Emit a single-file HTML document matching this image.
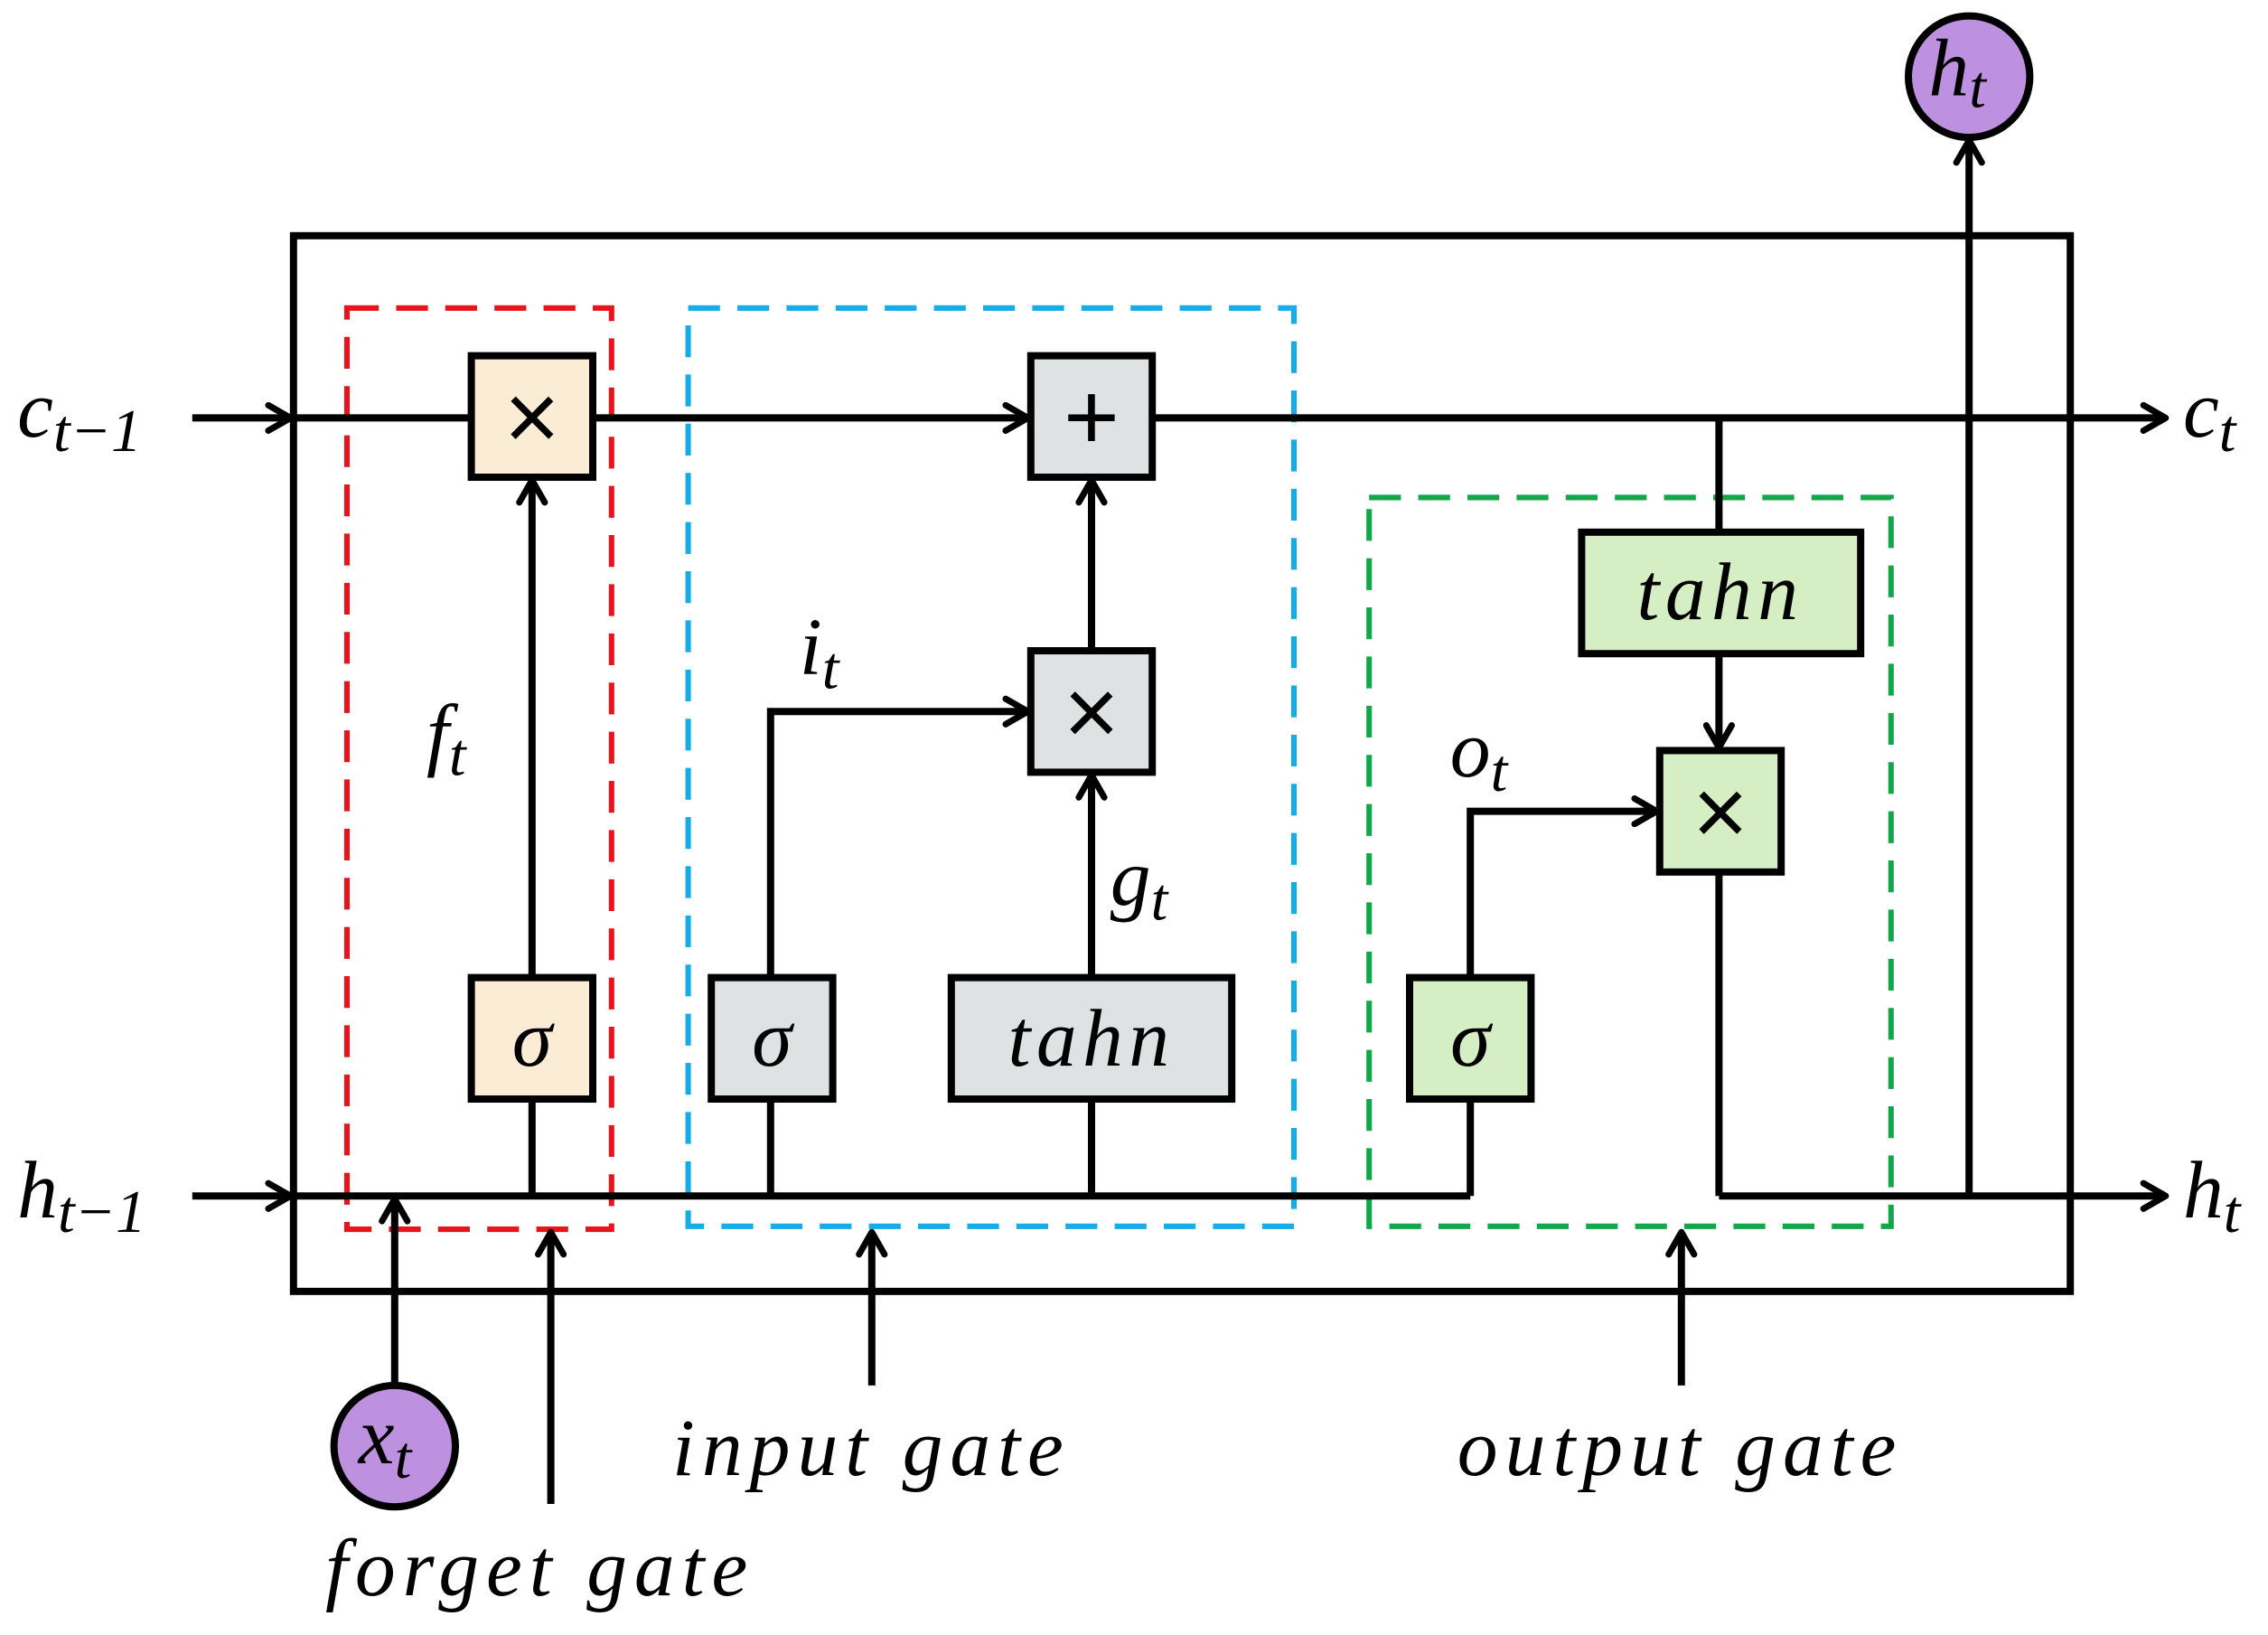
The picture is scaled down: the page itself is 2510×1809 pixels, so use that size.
<!DOCTYPE html>
<html><head><meta charset="utf-8"><style>html,body{margin:0;padding:0;background:#fff}svg{display:block}</style></head>
<body>
<svg width="2510" height="1809" viewBox="0 0 1568.75 1130.6" preserveAspectRatio="none" xmlns="http://www.w3.org/2000/svg">
<defs>
<marker id="a" viewBox="0 0 20 20" refX="18" refY="10" markerWidth="22" markerHeight="22" markerUnits="userSpaceOnUse" orient="auto">
<path d="M4,2 L18,10 L4,18" fill="none" stroke="#000" stroke-width="4" stroke-linecap="round" stroke-linejoin="round"/>
</marker>
</defs>
<g fill="none" stroke-width="3.8" stroke-dasharray="22,12">
<rect x="240" y="213" width="183" height="637" stroke="#e8141b"/>
<rect x="476" y="213" width="419" height="635" stroke="#16ace8"/>
<rect x="947" y="344" width="361" height="504" stroke="#12a84a"/>
</g>
<rect x="203" y="163" width="1229" height="730" fill="none" stroke="#000" stroke-width="5"/>
<g stroke="#000" stroke-width="5" fill="none">
<line x1="133" y1="289" x2="201" y2="289" marker-end="url(#a)"/>
<line x1="133" y1="827" x2="201" y2="827" marker-end="url(#a)"/>
<line x1="203" y1="289" x2="326" y2="289"/>
<line x1="410" y1="289" x2="711" y2="289" marker-end="url(#a)"/>
<line x1="797" y1="289" x2="1498" y2="289" marker-end="url(#a)"/>
<line x1="203" y1="827" x2="1017" y2="827"/>
<line x1="1189" y1="827" x2="1498" y2="827" marker-end="url(#a)"/>
<line x1="368" y1="827" x2="368" y2="760"/>
<line x1="368" y1="676" x2="368" y2="332" marker-end="url(#a)"/>
<line x1="533" y1="827" x2="533" y2="760"/>
<polyline points="533,676 533,492 711,492" marker-end="url(#a)"/>
<line x1="755" y1="827" x2="755" y2="760"/>
<line x1="755" y1="676" x2="755" y2="536" marker-end="url(#a)"/>
<line x1="755" y1="450" x2="755" y2="332" marker-end="url(#a)"/>
<line x1="1189" y1="289" x2="1189" y2="368"/>
<line x1="1189" y1="452" x2="1189" y2="517" marker-end="url(#a)"/>
<line x1="1017" y1="827" x2="1017" y2="760"/>
<polyline points="1017,676 1017,561 1146,561" marker-end="url(#a)"/>
<polyline points="1189,603 1189,827"/>
<line x1="1362" y1="827" x2="1362" y2="97" marker-end="url(#a)"/>
<line x1="273" y1="958" x2="273" y2="829" marker-end="url(#a)"/>
<line x1="381" y1="1040" x2="381" y2="852" marker-end="url(#a)"/>
<line x1="603" y1="958" x2="603" y2="852" marker-end="url(#a)"/>
<line x1="1163" y1="958" x2="1163" y2="852" marker-end="url(#a)"/>
</g>
<g stroke="#000" stroke-width="5">
<rect x="326" y="246" width="84" height="84" fill="#fbecd6"/>
<rect x="326" y="676" width="84" height="84" fill="#fbecd6"/>
<rect x="492" y="676" width="84" height="84" fill="#dfe2e3"/>
<rect x="658" y="676" width="194" height="84" fill="#dfe2e3"/>
<rect x="713" y="450" width="84" height="84" fill="#dfe2e3"/>
<rect x="713" y="246" width="84" height="84" fill="#dfe2e3"/>
<rect x="1094" y="368" width="193" height="84" fill="#d6eec4"/>
<rect x="1148" y="519" width="84" height="84" fill="#d6eec4"/>
<rect x="975" y="676" width="84" height="84" fill="#d6eec4"/>
<circle cx="1362" cy="53" r="42" fill="#bd91e0"/>
<circle cx="273" cy="1000" r="42" fill="#bd91e0"/>
</g>
<g font-family="Liberation Sans, sans-serif" font-size="66" text-anchor="middle" fill="#000">
<text x="368" y="311">×</text>
<text x="755" y="311">+</text>
<text x="755" y="515">×</text>
<text x="1190" y="584">×</text>
</g>
<g font-family="Liberation Serif, serif" font-style="italic" fill="#000" font-size="56">
<text x="368" y="737" text-anchor="middle">σ</text>
<text x="534" y="737" text-anchor="middle">σ</text>
<text x="1017" y="737" text-anchor="middle">σ</text>
<text x="755" y="737" text-anchor="middle" letter-spacing="4">tahn</text>
<text x="1190" y="428" text-anchor="middle" letter-spacing="4">tahn</text>
<text x="12" y="302">c<tspan font-size="42" dy="10">t−1</tspan></text>
<text x="12" y="842">h<tspan font-size="42" dy="10">t−1</tspan></text>
<text x="1510" y="302">c<tspan font-size="42" dy="10">t</tspan></text>
<text x="1510" y="842">h<tspan font-size="42" dy="10">t</tspan></text>
<text x="1334" y="66">h<tspan font-size="42" dy="8">t</tspan></text>
<text x="248" y="1012">x<tspan font-size="42" dy="10">t</tspan></text>
<text x="295" y="526">f<tspan font-size="42" dy="10">t</tspan></text>
<text x="553" y="466">i<tspan font-size="42" dy="10">t</tspan></text>
<text x="768" y="626">g<tspan font-size="42" dy="10">t</tspan></text>
<text x="1003" y="537">o<tspan font-size="42" dy="10">t</tspan></text>
<text x="465" y="1020" letter-spacing="5">input gate</text>
<text x="1008" y="1020" letter-spacing="5">output gate</text>
<text x="225" y="1103" letter-spacing="5">forget gate</text>
</g>
</svg>
</body></html>
